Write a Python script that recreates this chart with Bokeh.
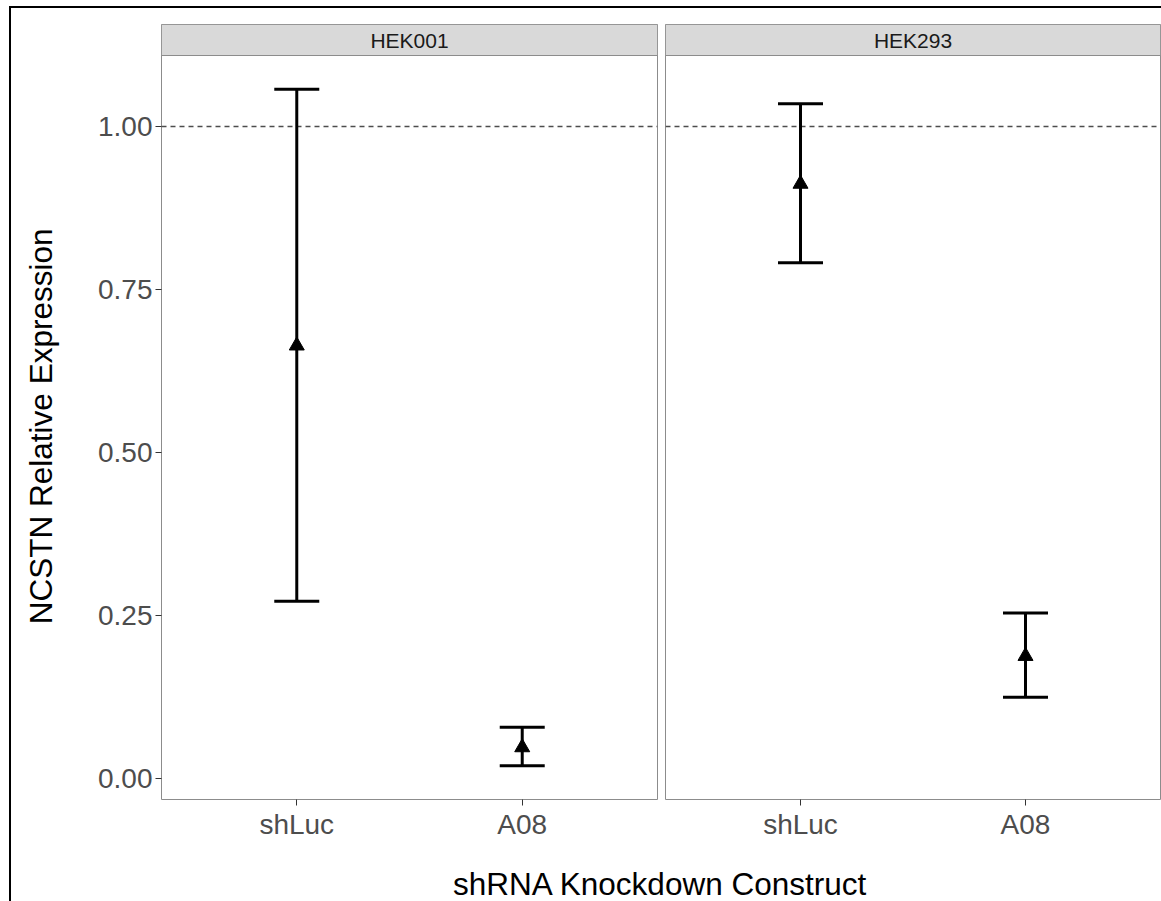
import math
from bokeh.plotting import figure
from bokeh.models import (Range1d, FixedTicker, ColumnDataSource, Whisker, TeeHead,
                          Span, Label)
from bokeh.layouts import row, column
from bokeh.embed import file_html
from bokeh.resources import INLINE

# ---------------- data ----------------
cell_lines = ["HEK001", "HEK293"]
constructs = ["shLuc", "A08"]
means = {"HEK001": [0.664, 0.048], "HEK293": [0.912, 0.188]}
lowers = {"HEK001": [0.272, 0.020], "HEK293": [0.791, 0.125]}
uppers = {"HEK001": [1.057, 0.079], "HEK293": [1.035, 0.254]}
reference_level = 1.0

y_ticks = [0.0, 0.25, 0.50, 0.75, 1.00]
y_tick_labels = ["0.00", "0.25", "0.50", "0.75", "1.00"]

x_title = "shRNA Knockdown Construct"
y_title = "NCSTN Relative Expression"

# ---------------- style ----------------
FONT = "Liberation Sans"
BORDER = "#8c8c8c"
STRIP_FILL = "#d9d9d9"

# ggplot-like scale expansion
all_lo = min(min(v) for v in lowers.values())
all_hi = max(max(max(v) for v in uppers.values()), reference_level)
span = all_hi - all_lo
y0 = all_lo - 0.05 * span
y1 = all_hi + 0.05 * span
PANEL_H = 744
STRIP_H = 31
TOP = 16
BOTTOM = 46
FIG_H = TOP + PANEL_H + STRIP_H + BOTTOM
y_top = y1 + STRIP_H * (y1 - y0) / PANEL_H

x0, x1 = 0.4, len(constructs) + 0.6
xpos = [i + 1 for i in range(len(constructs))]

YT_W = 70  # width of the y-title column


def make_panel(cell, first):
    p = figure(
        width=(80 + 496 + 4) if first else (4 + 495 + 1),
        height=FIG_H,
        x_range=Range1d(x0, x1), y_range=Range1d(y0, y_top),
        output_backend="svg", toolbar_location=None,
        min_border_left=80 if first else 4,
        min_border_right=4 if first else 1,
        min_border_top=TOP, min_border_bottom=BOTTOM,
        y_axis_location="left" if first else None,
    )
    p.xgrid.visible = False
    p.ygrid.visible = False
    p.background_fill_color = "white"
    p.border_fill_color = "white"
    p.outline_line_color = BORDER
    p.outline_line_width = 1

    # reference line
    p.add_layout(Span(location=reference_level, dimension="width",
                      line_color="#4d4d4d", line_width=1.5, line_dash="5 4",
                      level="underlay"))

    src = ColumnDataSource(dict(x=xpos, m=means[cell], lo=lowers[cell], hi=uppers[cell]))
    w = Whisker(base="x", lower="lo", upper="hi", source=src,
                line_color="black", line_width=3,
                upper_head=TeeHead(size=45, line_color="black", line_width=3),
                lower_head=TeeHead(size=45, line_color="black", line_width=3))
    p.add_layout(w)
    p.scatter("x", "m", source=src, marker="triangle", size=15,
              fill_color="black", line_color="black")

    # facet strip
    p.quad(left=[x0], right=[x1], bottom=[y1], top=[y_top],
           fill_color=STRIP_FILL, line_color=BORDER, line_width=1)
    p.text(x=[(x0 + x1) / 2], y=[(y1 + y_top) / 2], text=[cell],
           text_align="center", text_baseline="middle",
           text_font={"value": FONT}, text_font_size="21px", text_color="#1a1a1a")

    # x axis
    ax = p.xaxis[0]
    ax.ticker = FixedTicker(ticks=xpos)
    ax.major_label_overrides = {x: c for x, c in zip(xpos, constructs)}
    ax.axis_line_color = None
    ax.major_tick_line_color = "#333333"
    ax.major_tick_out = 6
    ax.major_tick_in = 0
    ax.minor_tick_line_color = None
    ax.major_label_text_font = FONT
    ax.major_label_text_font_size = "28px"
    ax.major_label_text_color = "#4d4d4d"
    ax.major_label_standoff = 3

    if first:
        ay = p.yaxis[0]
        ay.ticker = FixedTicker(ticks=y_ticks)
        ay.major_label_overrides = {t: l for t, l in zip(y_ticks, y_tick_labels)}
        ay.axis_line_color = None
        ay.major_tick_line_color = "#333333"
        ay.major_tick_out = 6
        ay.major_tick_in = 0
        ay.minor_tick_line_color = None
        ay.major_label_text_font = FONT
        ay.major_label_text_font_size = "28px"
        ay.major_label_text_color = "#4d4d4d"
        ay.major_label_standoff = 3
    return p


p1 = make_panel(cell_lines[0], True)
p2 = make_panel(cell_lines[1], False)

# y title column (centred on the panel area, below the strip)
py = figure(width=YT_W, height=FIG_H, x_range=Range1d(0, YT_W), y_range=Range1d(0, FIG_H),
            output_backend="svg", toolbar_location=None, min_border=0,
            x_axis_location=None, y_axis_location=None)
py.xgrid.visible = False
py.ygrid.visible = False
py.outline_line_color = None
py.add_layout(Label(x=29, y=BOTTOM + PANEL_H / 2 - 15, text=y_title, angle=math.pi / 2,
                    text_align="center", text_baseline="middle",
                    text_font=FONT, text_font_size="31.5px", text_color="black"))

TW = YT_W + 580 + 500
TH = 56
pt = figure(width=TW, height=TH, x_range=Range1d(0, TW), y_range=Range1d(0, TH),
            output_backend="svg", toolbar_location=None, min_border=0,
            x_axis_location=None, y_axis_location=None)
pt.xgrid.visible = False
pt.ygrid.visible = False
pt.outline_line_color = None
pt.add_layout(Label(x=649, y=18, text=x_title,
                    text_align="center", text_baseline="middle",
                    text_font=FONT, text_font_size="31.5px", text_color="black"))

layout = column(row(py, p1, p2), pt,
                styles={"border-left": "2px solid black", "border-top": "2px solid black",
                        "margin-left": "9px", "margin-top": "6px"})

open("out.html", "w").write(file_html(layout, INLINE))
